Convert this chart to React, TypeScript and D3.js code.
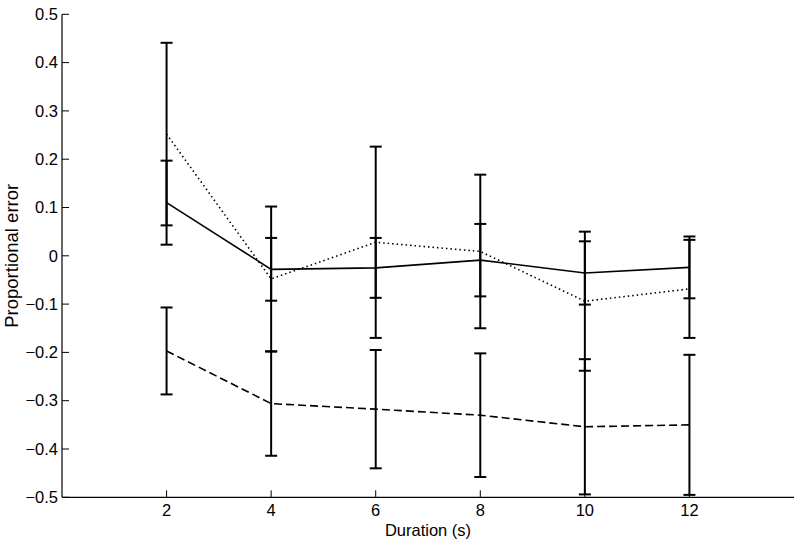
import React from "react";
import * as d3 from "d3";

const durations = [2, 4, 6, 8, 10, 12];
const solidMean = [0.11, -0.028, -0.025, -0.009, -0.0355, -0.024];
const solidErr = [0.087, 0.065, 0.062, 0.075, 0.0655, 0.064];
const dottedMean = [0.252, -0.048, 0.028, 0.009, -0.094, -0.0685];
const dottedErr = [0.189, 0.15, 0.198, 0.159, 0.144, 0.1015];
const dashedMean = [-0.197, -0.306, -0.3175, -0.33, -0.354, -0.35];
const dashedErr = [0.09, 0.108, 0.1225, 0.128, 0.14, 0.145];
const yTicks = [0.5, 0.4, 0.3, 0.2, 0.1, 0, -0.1, -0.2, -0.3, -0.4, -0.5];
const xTicks = [2, 4, 6, 8, 10, 12];

const W = 800;
const H = 545;
const FONT = "'Liberation Sans', Arial, sans-serif";

const series = [
  { mean: solidMean, err: solidErr, dash: "none" },
  { mean: dottedMean, err: dottedErr, dash: "1.5,3" },
  { mean: dashedMean, err: dashedErr, dash: "8,4" },
];

export default function App() {
  const x = d3.scaleLinear().domain([0, 14]).range([62, 794]);
  const y = d3.scaleLinear().domain([-0.5, 0.5]).range([497.3, 14.3]);
  const line = d3
    .line<number>()
    .x((_, i) => x(durations[i]))
    .y((d) => y(d));
  const fmt = (v: number) => (Math.abs(v) < 1e-9 ? "0" : d3.format("")(+v.toFixed(1)));

  return (
    <svg
      width={W}
      height={H}
      style={{ position: "absolute", left: 0, top: 0, background: "#fff" }}
      fontFamily={FONT}
    >
      <rect width={W} height={H} fill="#fff" />
      {/* axes */}
      <line x1={x(0)} x2={x(0)} y1={y(0.5)} y2={y(-0.5)} stroke="#000" strokeWidth={1.2} />
      <line x1={x(0)} x2={x(14)} y1={y(-0.5)} y2={y(-0.5)} stroke="#000" strokeWidth={1.2} />
      {yTicks.map((t) => (
        <g key={"y" + t}>
          <line x1={x(0)} x2={x(0) + 7} y1={y(t)} y2={y(t)} stroke="#000" strokeWidth={1} />
          <text
            x={x(0) - 4}
            y={y(t)}
            dy="0.35em"
            textAnchor="end"
            fontSize={16.5}
            fill="#000"
          >
            {fmt(t)}
          </text>
        </g>
      ))}
      {xTicks.map((t) => (
        <g key={"x" + t}>
          <line x1={x(t)} x2={x(t)} y1={y(-0.5)} y2={y(-0.5) - 7} stroke="#000" strokeWidth={1} />
          <text x={x(t)} y={516} textAnchor="middle" fontSize={16.5} fill="#000">
            {t}
          </text>
        </g>
      ))}
      <text x={x(7)} y={536} textAnchor="middle" fontSize={16.5} fill="#000">
        Duration (s)
      </text>
      <text
        transform={`translate(18,${y(0)}) rotate(-90)`}
        textAnchor="middle"
        fontSize={18.5}
        fill="#000"
      >
        Proportional error
      </text>
      {/* series */}
      {series.map((s, si) => (
        <g key={"s" + si}>
          {s.mean.map((m, i) => {
            const cx = x(durations[i]);
            const top = y(m + s.err[i]);
            const bot = y(m - s.err[i]);
            return (
              <g key={i} stroke="#000" strokeWidth={2}>
                <line x1={cx} x2={cx} y1={top} y2={bot} />
                <line x1={cx - 6} x2={cx + 6} y1={top} y2={top} />
                <line x1={cx - 6} x2={cx + 6} y1={bot} y2={bot} />
              </g>
            );
          })}
          <path
            d={line(s.mean) || ""}
            fill="none"
            stroke="#000"
            strokeWidth={s.dash === "1.5,3" ? 1.6 : 1.6}
            strokeDasharray={s.dash}
          />
        </g>
      ))}
    </svg>
  );
}
